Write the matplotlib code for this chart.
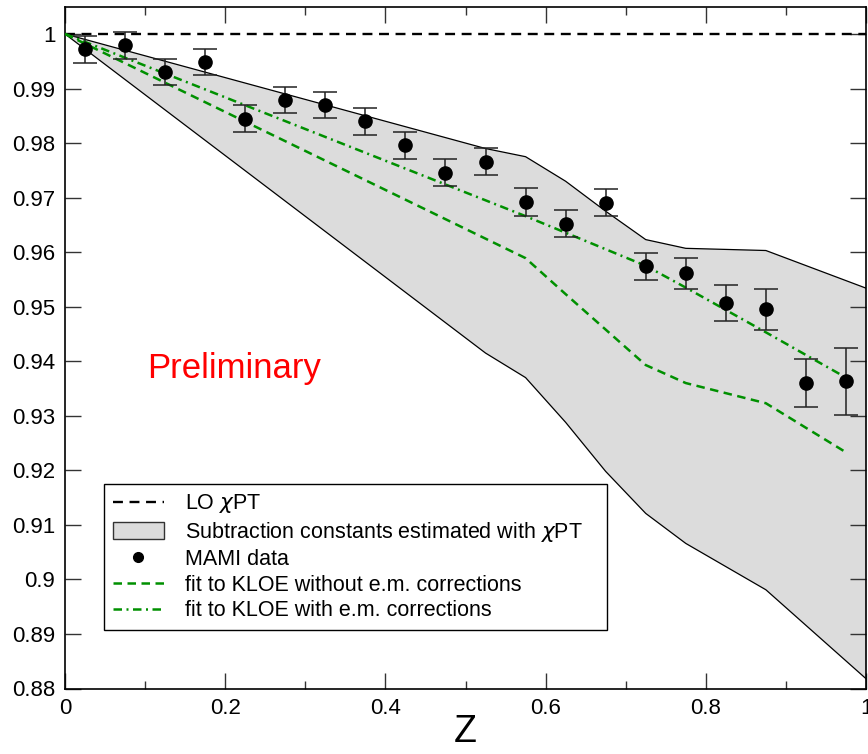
import matplotlib
matplotlib.use("Agg")
import matplotlib.pyplot as plt
from matplotlib.patches import Patch
from matplotlib.lines import Line2D

plt.rcParams['font.family'] = ['Liberation Sans', 'DejaVu Sans']

# MAMI data
z_data = [0.025, 0.075, 0.125, 0.175, 0.225, 0.275, 0.325, 0.375, 0.425, 0.475,
          0.525, 0.575, 0.625, 0.675, 0.725, 0.775, 0.825, 0.875, 0.925, 0.975]
r_data = [0.9972, 0.9979, 0.9930, 0.9948, 0.9845, 0.9879, 0.9870, 0.9840, 0.9796, 0.9746,
          0.9766, 0.9692, 0.9652, 0.9691, 0.9574, 0.9561, 0.9506, 0.9495, 0.9361, 0.9363]
r_err = [0.0025, 0.0024, 0.0024, 0.0024, 0.0024, 0.0024, 0.0024, 0.0025, 0.0025, 0.0025,
         0.0025, 0.0025, 0.0025, 0.0025, 0.0025, 0.0028, 0.0033, 0.0037, 0.0044, 0.0062]

# chiPT band
z_band = [0.0, 0.525, 0.575, 0.625, 0.675, 0.725, 0.775, 0.875, 1.0]
band_upper = [1.0, 0.9790, 0.9775, 0.9730, 0.9675, 0.9623, 0.9607, 0.9603, 0.9534]
band_lower = [1.0, 0.9415, 0.9370, 0.9288, 0.9198, 0.9121, 0.9066, 0.8981, 0.8818]

# fit without e.m. corrections
z_fit1 = [0.0, 0.575, 0.625, 0.675, 0.725, 0.775, 0.875, 0.975]
r_fit1 = [1.0, 0.9589, 0.9523, 0.9458, 0.9393, 0.9360, 0.9323, 0.9233]

# fit with e.m. corrections
z_fit2 = [0.0, 0.575, 0.725, 0.775, 0.875, 0.975]
r_fit2 = [1.0, 0.9666, 0.9575, 0.9535, 0.9453, 0.9370]

W, H = 868, 754
fig = plt.figure(figsize=(W/100, H/100), dpi=100)
ax = fig.add_axes([65/W, 1-688.5/H, 801/W, 681.8/H])

green = '#009000'
FS = 16
ax.fill_between(z_band, band_lower, band_upper, facecolor='#dcdcdc', edgecolor='none', zorder=1)
ax.plot(z_band, band_upper, color='black', lw=0.9, zorder=2)
ax.plot(z_band, band_lower, color='black', lw=0.9, zorder=2)

lo_dash = (4.2, 2.8)
fit1_dash = (3.4, 2.2)
fit2_dash = (3.4, 1.8, 0.8, 1.8)
ax.axhline(1.0, color='black', lw=1.7, dashes=lo_dash, zorder=3)

ax.plot(z_fit1, r_fit1, color=green, lw=1.8, dashes=fit1_dash, zorder=3)
ax.plot(z_fit2, r_fit2, color=green, lw=1.8, dashes=fit2_dash, zorder=3)

ax.errorbar(z_data, r_data, yerr=r_err, fmt='o', color='black', ms=9.5,
            ecolor='#222222', elinewidth=1.1, capsize=8.5, capthick=1.1, zorder=4)

ax.set_xlim(0, 1)
ax.set_ylim(0.88, 1.005)
ax.set_xticks([0, 0.2, 0.4, 0.6, 0.8, 1.0])
ax.set_xticklabels(['0', '0.2', '0.4', '0.6', '0.8', '1'])
ax.set_xticks([0.1, 0.3, 0.5, 0.7, 0.9], minor=True)
yt = [0.88 + 0.01*i for i in range(13)]
ax.set_yticks(yt)
ax.set_yticklabels(['0.88', '0.89', '0.9', '0.91', '0.92', '0.93', '0.94', '0.95',
                    '0.96', '0.97', '0.98', '0.99', '1'])
ax.tick_params(which='both', direction='in', top=True, right=True, color='#333333',
               width=1.0, labelsize=FS, pad=7)
ax.tick_params(which='major', length=11.5)
ax.tick_params(which='minor', length=5.8)
for s in ax.spines.values():
    s.set_linewidth(1.2)

ax.set_xlabel('Z', fontsize=27, labelpad=-4)

ax.text(0.102, 0.9369, 'Preliminary', color='red', fontsize=25, ha='left', va='baseline')

handles = [
    Line2D([], [], color='black', lw=1.7, dashes=lo_dash),
    Patch(facecolor='#dcdcdc', edgecolor='#333333', lw=1.0),
    Line2D([], [], color='black', marker='o', ls='none', ms=7),
    Line2D([], [], color=green, lw=1.8, dashes=fit1_dash),
    Line2D([], [], color=green, lw=1.8, dashes=fit2_dash),
]
labels = ['LO $\\chi$PT', 'Subtraction constants estimated with $\\chi$PT', 'MAMI data',
          'fit to KLOE without e.m. corrections', 'fit to KLOE with e.m. corrections']
x0 = (104-65)/801
y0 = (688.5-630)/681.8
w = (607-104)/801
h = (630-488)/681.8
leg = ax.legend(handles, labels, loc='lower left', bbox_to_anchor=(x0, y0, w, h),
                mode='expand', borderaxespad=0, fontsize=15.5, frameon=True, fancybox=False,
                edgecolor='black', framealpha=1, handlelength=2.4, handletextpad=0.95,
                borderpad=0.4, labelspacing=0.22, handleheight=0.8)
leg.get_frame().set_linewidth(1.0)
leg.set_zorder(5)

fig.savefig('out.png', dpi=100)
